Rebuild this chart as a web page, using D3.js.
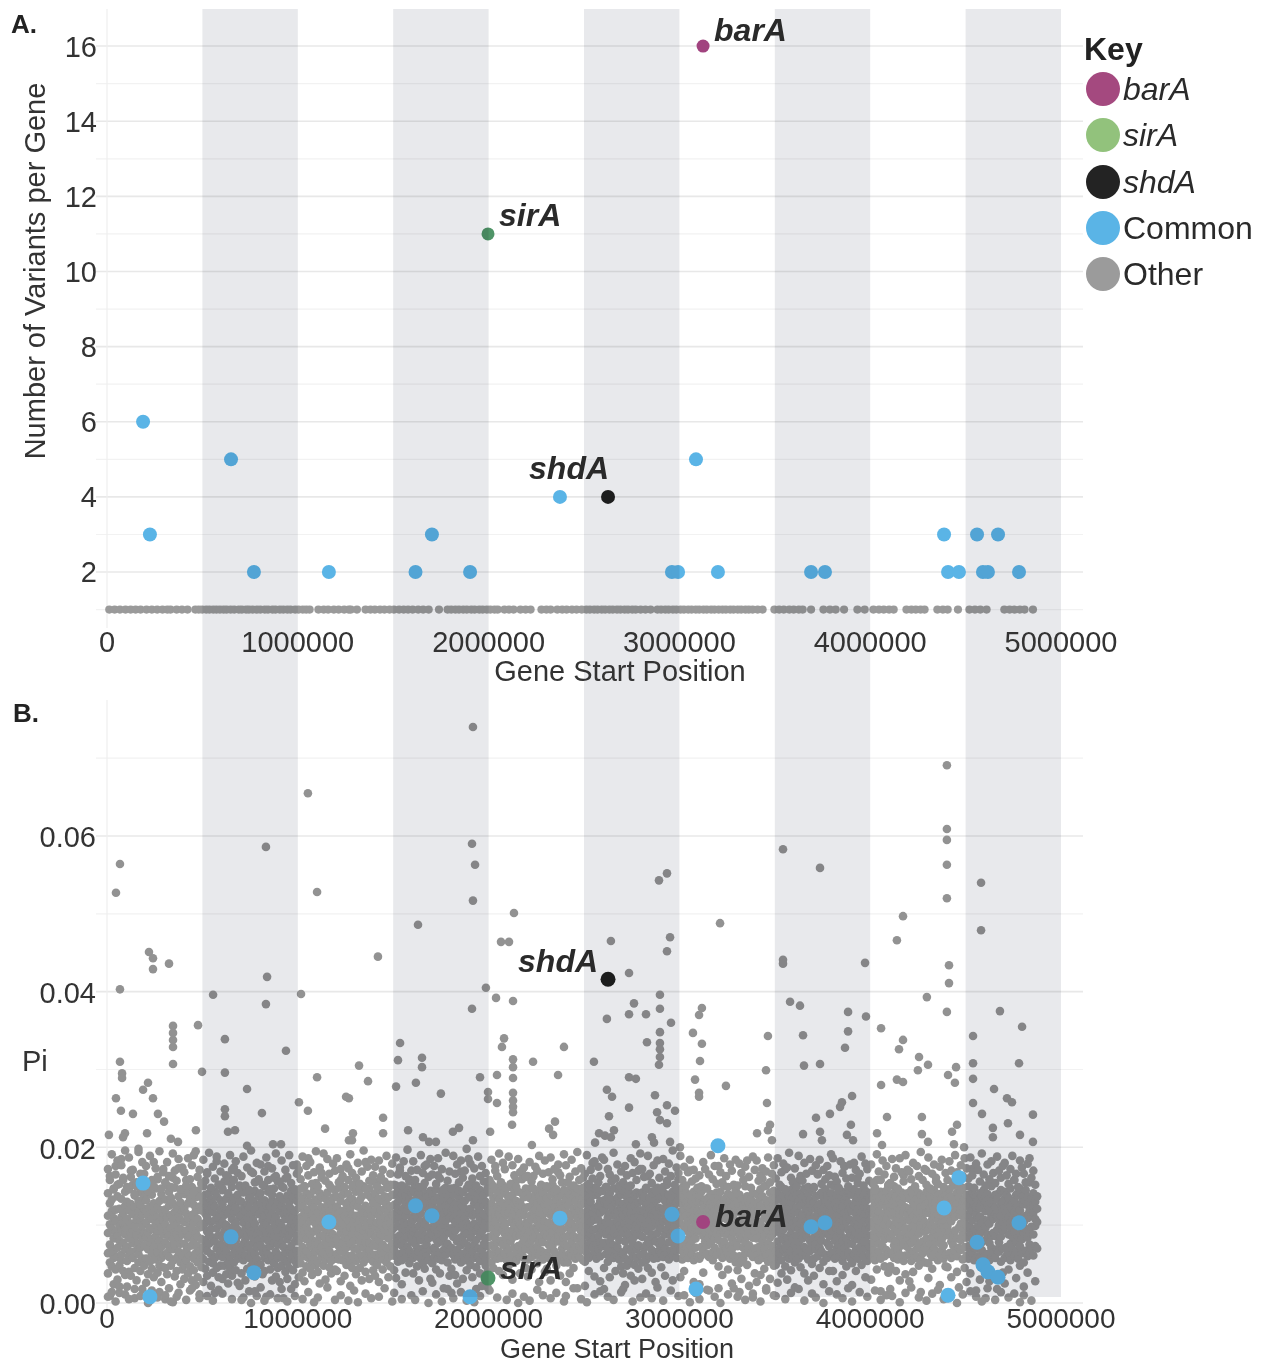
<!DOCTYPE html>
<html>
<head>
<meta charset="utf-8">
<script src="https://cdn.jsdelivr.net/npm/d3@7"></script>
<style>
  body { margin: 0; background: #fff; }
  svg text { font-family: "Liberation Sans", Arial, Helvetica, sans-serif; }
</style>
</head>
<body>
<svg id="chart" width="1271" height="1364"></svg>
<script>
// ---------------- data ----------------
// alternating half-megabase shading along the genome (bp)
const bandStarts = [500000, 1500000, 2500000, 3500000, 4500000];
const bandWidth = 500000;

const xTicks = [0, 1000000, 2000000, 3000000, 4000000, 5000000];
const variantTicks = [2, 4, 6, 8, 10, 12, 14, 16];
const piTicks = [0, 0.02, 0.04, 0.06];

// highlighted genes
const keyGenes = ["barA", "sirA", "shdA"];
const keyGeneStartKb = [3124, 1997, 2626];
const keyGeneVariants = [16, 11, 4];
const keyGenePi = [0.0104, 0.0032, 0.0416];

// genes with variants shared across isolates ("Common")
const commonStartKb = [189, 225, 650, 770, 1163, 1617, 1703, 1903, 2374, 2961, 2993, 3087, 3202,
  3690, 3763, 4387, 4408, 4465, 4560, 4591, 4617, 4670, 4780];
const commonVariants = [6, 3, 5, 2, 2, 2, 3, 2, 4, 2, 2, 5, 2,
  2, 2, 3, 2, 2, 3, 2, 2, 3, 2];
const commonPi = [0.0154, 0.0008, 0.0085, 0.0039, 0.0104, 0.0125, 0.0112, 0.0008, 0.0109, 0.0114, 0.0086, 0.0018, 0.0202,
  0.0098, 0.0103, 0.0122, 0.0010, 0.0161, 0.0078, 0.0049, 0.0040, 0.0033, 0.0103];

// other genes carrying a single variant (start, kb)
const singleVariantStartKb = [
  12, 40, 68, 97, 124, 150, 176, 207, 235, 263, 291, 316, 333, 365, 393, 422,
  463, 481, 499, 520, 537, 557, 574, 592, 611, 627, 648, 667, 691, 707, 729, 744, 763, 786,
  804, 827, 844, 867, 883, 906, 924, 945, 962, 986, 1004, 1026, 1044, 1062,
  1108, 1136, 1159, 1189, 1214, 1243, 1267, 1278, 1310,
  1355, 1381, 1404, 1431, 1454, 1481, 1504, 1531, 1555, 1578, 1602, 1631, 1657, 1686, 1740,
  1785, 1804, 1826, 1845, 1867, 1886, 1909, 1927, 1951, 1969, 1991, 2009, 2031, 2048,
  2083, 2107, 2131, 2167, 2194, 2220, 2277, 2303, 2325,
  2360, 2386, 2409, 2437, 2461, 2488, 2512, 2531, 2553, 2571, 2593, 2611, 2633, 2651, 2673,
  2691, 2713, 2731, 2753, 2771, 2797, 2822, 2849,
  2885, 2904, 2926, 2944, 2966, 2984, 3006, 3024, 3046, 3064, 3086, 3104, 3126, 3144, 3166,
  3184, 3206, 3226, 3244, 3266, 3284, 3306, 3324, 3346, 3364, 3384, 3410, 3436,
  3498, 3523, 3547, 3576, 3599, 3626, 3646, 3690, 3755, 3789, 3819, 3863, 3933, 3971,
  4017, 4046, 4071, 4099, 4123, 4190, 4216, 4239, 4264, 4285, 4352, 4381, 4406, 4460,
  4520, 4549, 4577, 4610, 4703, 4731, 4756, 4784, 4809, 4853];

// nucleotide diversity (Pi) of every gene, in units of 1e-4.
// One string per 100-kb window; "|" separates ten 10-kb slots.
const piWindows = [
  "112 64 38 141 90|75 128 52 9 101 163|96 47 133 70 118|58 24 109 147 83 66|120 91 176 43 105|71 137 30 86 59 152|99 121 48 13 80|134 62 94 110 185 55|41 116 77 158 102|88 69 125 36 143 97",
  "97 54 130 21 108 72|146 83 61 119 40|102 170 66 89 127 35|58 114 93 152 77|45 123 81 6 138 99|68 107 150 29 87|131 76 52 117 194 63|92 41 126 71 105 142|57 113 84 18 99|136 74 48 121 166 90",
  "84 132 57 26 103 118|69 145 91 37 112|150 78 53 124 96 3|63 108 139 82 44|117 71 181 95 33 128|56 101 86 147 74|122 39 93 65 110 159|80 131 48 14 104|72 119 97 140 58 27|88 62 115 172 46 106",
  "101 45 133 78 5 120|64 92 151 37 110|86 125 59 19 143 73|113 48 97 135 2|69 106 82 161 54 128|91 34 117 74 148|58 123 100 41 89 8|137 66 111 83 173|52 95 129 76 24 107|118 61 146 88 43",
  "76 121 49 104 140 31|93 67 115 158 55|128 84 38 109 72 142|61 99 134 47 16 87|113 74 149 96 29|57 126 81 103 190 42|90 136 64 118 23|73 108 52 144 85 33|124 97 66 11 137|82 59 119 153 101 46",
  "98 56 131 72 150 27|115 81 44 103 139|67 126 92 35 110 168|88 53 141 76 119|104 63 22 133 95 147|51 117 84 128 39|79 143 106 58 13 124|96 70 137 45 112 182|61 109 87 152 33|132 75 101 48 120 66",
  "84 127 59 145 31 104|71 113 92 156 48|119 66 100 37 134 87|53 141 78 115 162 25|96 60 122 83 45|108 149 73 35 129 91|64 116 99 174 52 135|80 42 123 68 102|139 57 94 117 26 86|72 110 151 63 131",
  "67 112 38 130 89 4|103 55 142 76 121|82 29 118 95 148 61|126 71 44 109 87|58 135 99 15 123 74|91 47 140 66 113 169|77 107 52 131 84|120 63 96 34 144 102|56 88 125 72 9|114 93 137 49 81 157",
  "91 49 128 74 141 20|106 65 119 37 97|83 132 58 150 112 41|70 101 126 8 89|117 55 143 80 62 176|95 124 43 108 73|132 60 88 29 115 139|77 104 51 147 86|123 66 98 34 110 163|58 92 130 75 45",
  "103 61 137 27 84 118|76 125 48 99 150|89 57 114 6 133 72|121 94 40 108 160 65|82 138 53 116 31|97 68 129 45 110 87|144 73 102 18 121 58|63 111 90 136 42|118 79 54 146 99 24|86 131 67 105 178 50",
  "79 122 56 138 33 97|110 64 89 147 51|125 72 103 39 134 85|60 116 92 150 28|98 141 67 110 47 82|131 58 93 120 186|75 105 44 139 88 62|114 53 127 81 36|92 145 70 108 57 123|66 101 133 79 49 154",
  "94 52 131 77 116 40|68 107 141 85 25|123 59 98 136 72 167|87 113 48 102 64|134 79 56 119 95 30|61 108 142 73 126|99 46 117 83 152 67|128 90 54 111 38|76 135 100 62 121 88|57 114 83 145 43 105",
  "109 63 136 82 41 124|73 98 148 56 115|90 131 67 28 104 158|118 55 96 139 77|64 112 85 143 35 101|127 71 49 117 92|82 140 106 60 130 173|97 53 121 76 22|134 88 61 113 149 45|70 103 126 80 95",
  "86 128 54 112 143 37|101 69 124 90 59|132 78 107 45 146 96|61 118 84 29 137|93 150 72 115 52 106|78 125 98 63 181 40|114 57 139 86 103|68 120 94 147 31 77|105 135 60 111 89|53 97 128 74 156 42",
  "97 141 62 118 35 84|126 73 103 155 49|81 112 58 134 92 27|119 67 145 88 104 162|56 99 131 75 43|137 86 110 64 121 95|71 148 100 52 127|108 59 136 83 33 115|90 124 68 152 47 102|76 113 139 61 94",
  "115 68 139 42 97 126|84 107 151 60 32|130 76 99 121 53 145|63 111 87 135 170|96 140 55 118 74 24|122 81 104 149 66|58 128 93 112 39 137|101 72 146 85 119|67 125 94 51 133 159|110 79 142 62 103 88",
  "92 131 58 107 145 38|76 118 96 152 63|135 84 110 47 126 71|99 141 66 120 29 88|115 57 139 81 105|70 127 94 148 51 133|102 65 123 86 176 44|129 75 108 140 60|83 119 97 55 137 113|68 144 90 124 31",
  "88 126 51 113 139 26|104 71 132 59 95|120 82 107 146 43 67|57 117 91 135 77 164|129 64 101 38 122|79 143 96 55 111 87|115 68 136 84 19|62 125 99 148 71 106|133 76 52 118 93|90 141 65 109 35 127",
  "71 118 44 131 96 13|108 62 139 85 121|93 127 56 104 148 36|122 79 113 68 25|59 135 97 144 83 107|115 52 128 74 169|86 142 63 100 31 124|131 77 109 55 92|66 120 89 147 42 103|99 136 73 116 58 185",
  "84 121 49 136 7 98|112 66 143 91 33|58 128 102 75 151|134 81 115 46 93 18|70 140 97 124 60|117 54 109 145 86 38|92 131 68 103 22|61 126 99 139 76 114|105 48 130 83 57|122 73 96 148 40 110",
  "99 142 63 118 85 31|127 74 108 153 52|88 135 96 61 120 45|112 69 146 83 104 176|57 124 91 137 78|133 66 114 98 41 149|80 121 58 109 140|106 151 75 94 128 36|64 117 89 143 100|125 82 139 72 55 113",
  "116 67 135 92 48 127|79 104 149 61 121|93 138 57 112 84 30|128 71 145 99 118|64 107 131 86 54 157|120 95 143 73 108|87 129 60 115 38 101|141 76 98 124 66 170|58 113 90 136 81|103 147 69 122 45 94",
  "87 123 56 140 101 34|112 68 135 92 76|125 81 107 148 59 43|70 118 96 131 84 163|139 62 110 89 120|95 144 73 105 51 128|61 116 99 137 79 27|132 85 121 67 108|78 141 94 113 56 150|104 126 64 89 133 40",
  "98 135 62 119 44 86|126 75 103 147 58|83 113 139 69 95 29|117 57 129 91 152 74|104 143 66 123 81|62 111 97 134 48 106|137 79 118 88 168|92 56 127 101 141 35|115 70 94 138 63 121|76 145 108 84 52",
  "105 61 132 85 27 118|73 126 97 144 52|129 88 110 64 139 38|60 114 93 150 79 102|121 68 136 86 45|97 131 57 115 142 72|83 109 147 66 124 19|138 74 101 119 59|68 127 92 144 84 113|112 55 135 99 77 161",
  "91 128 53 140 107 22|118 72 99 151 64|84 135 112 58 126 41|130 77 104 145 89|61 116 94 138 71 180|107 148 66 122 83 34|76 113 139 95 57|142 86 107 125 69 155|98 60 131 78 116 28|121 93 144 73 102",
  "77 119 45 132 98 18|104 63 127 88 149|126 70 110 53 137|59 94 141 79 115 33|133 85 102 66 123 157|91 147 58 112 74|115 68 129 96 41|72 135 87 118 60 104|128 56 99 143 81|95 122 65 109 139 47",
  "64 112 38 127 90 145|101 57 121 79 23|117 83 136 48 96 70|55 108 130 88 143|124 67 99 115 35 151|82 132 60 106 76|110 49 125 93 138 29|69 117 87 142 58 100|129 74 112 44 96|87 140 62 119 105 172",
  "85 131 52 109 142 31|118 70 96 137 62|74 124 101 146 55|128 81 113 45 92 163|60 107 135 77 121|98 143 68 114 88 39|112 57 126 83 140|79 104 132 65 118 27|133 90 58 111 148|67 122 97 136 75 103",
  "96 137 63 118 81 46|121 74 105 149 59|88 131 112 70 140 35|107 64 127 94 152|78 118 139 99 56 115|131 87 108 67 124|61 114 92 143 80 29|125 103 72 136 97|84 129 58 111 146 68|116 91 133 76 105 159",
  "102 139 68 117 85 33|127 75 111 148 56|93 134 62 120 99 41|112 81 142 70 128|67 124 96 137 58 105|138 89 115 74 121 170|80 107 131 63 96|119 55 143 88 110 27|71 126 101 135 83|130 92 118 60 109 146",
  "94 131 57 114 138 24|118 72 99 143 61|86 127 105 66 122 39|133 79 111 91 147|63 119 97 132 74 108|121 84 136 59 102 16|77 113 128 93 140|108 65 124 87 55 117|135 96 71 120 83|89 126 103 142 62 112",
  "81 123 47 136 102 19|109 66 128 90 143|124 75 113 58 97 36|60 117 89 132 79 150|135 94 108 70 121|88 128 64 115 140 43|116 73 131 98 57|69 122 104 138 83 25|126 91 117 61 108|99 134 77 119 145 52",
  "73 117 42 129 95 8|106 60 124 86 139 51|119 82 101 54 133 31|57 112 93 126 71|130 78 104 64 116 150|85 121 97 137 49 109|112 67 128 90 22 74|63 118 99 133 106|125 84 59 114 141 12|92 127 70 103 38 120",
  "61 98 140 27 115 83|104 72 131 55 119|88 146 66 102 36 125|117 79 94 58 137 160|70 109 123 44 86|132 97 62 114 151 19|93 76 128 107 53|121 65 99 142 84 31|57 113 87 134 73 100|126 91 48 118 144",
  "108 66 135 49 92 124|79 143 101 58 117 26|133 71 96 112 64|55 120 87 149 103 38|126 94 68 138 81|99 115 47 130 172 72|61 107 141 84 119 30|137 76 98 124 57|89 129 67 111 145 42|116 83 136 59 102",
  "74 118 143 52 97 20|123 86 106 64 139|95 131 57 115 78 157|141 68 102 125 46|83 109 136 91 61 114|128 72 99 147 38|105 61 120 87 133 70|56 117 93 140 104 29|132 80 111 67 126|94 145 75 121 50 101",
  "110 57 129 84 148 35|69 121 95 137 76|124 102 60 114 88 166|83 139 71 106 45 127|97 118 66 142 80|135 89 113 53 122 24|62 108 131 93 146|119 77 100 138 58 111|86 127 73 116 41|141 96 64 120 103 152",
  "92 64 135 118 41 103|127 80 109 150 57|71 122 96 139 85 28|113 59 131 74 101 145|88 137 67 120 93|124 54 106 143 79 36|98 115 70 132 61 176|136 83 112 47 104|65 128 94 141 76 118|107 140 58 123 89",
  "118 76 139 51 96 23|84 125 103 62 146|131 90 115 68 107 41|57 121 82 136 99 161|109 72 128 93 143|64 133 100 117 49 86|138 79 111 59 124|95 144 70 106 130 33|121 87 54 113 140 77|73 116 98 134 62 105",
  "99 58 121 142 30 87|115 69 103 134 78|62 127 91 148 55 112|136 84 107 43 120 158|76 99 131 66 118|104 143 57 89 126 15|128 73 110 95 139|60 115 82 134 101 47|123 92 144 68 108|87 130 63 117 152 39",
  "83 124 47 136 101 18|112 65 140 89 127|97 131 58 116 74 150|125 80 104 41 137|68 119 93 145 56 109|133 86 113 62 120 29|74 128 99 142 85|117 54 106 138 77 164|90 135 61 123 96 37|108 72 141 84 115",
  "106 63 134 88 28 121|77 117 97 145 54|129 85 111 66 139 40|58 102 126 81 147 93|118 70 134 60 107|89 141 75 115 48 128|102 56 123 96 138 14|131 79 108 64 117|71 137 92 125 52 104|116 83 143 69 98 170",
  "94 129 51 116 142 32|121 76 101 137 63|85 126 108 59 133 44|112 70 145 92 119|66 131 98 124 79 156|138 87 106 55 114|77 119 140 93 61 23|125 68 103 134 82|99 143 74 117 57 110|129 90 62 138 105 47",
  "87 122 46 134 99 9|110 64 128 91 146|124 79 105 58 137 33|62 116 88 131 74 151|135 93 111 67 125|83 127 60 118 142 40|114 71 136 97 20|68 121 102 144 81 113|130 89 56 117 148|96 134 72 108 45 126",
  "100 139 61 125 84 27|128 73 112 150 57|90 133 67 118 97 38|119 82 143 64 106 172|71 126 95 138 55|136 86 114 70 123 16|80 109 132 60 99|122 58 141 89 111 30|68 130 103 137 78|133 94 121 59 107 145",
  "81 118 42 130 97 6|106 63 125 88 140|121 77 102 55 134 28|59 113 86 128 71 150|132 90 108 64 119|86 123 58 114 139 35|111 69 133 94 18|66 117 100 141 78 109|127 85 53 112 145|93 129 70 104 39 121",
  "97 134 58 121 143 25|117 72 106 139 61|88 128 110 64 135 43|124 76 97 147 55 103|69 114 130 85 120|132 91 60 116 101 158|78 123 139 67 108 32|113 86 126 57 141|101 147 73 119 90 48|128 64 109 136 82",
  "90 127 52 138 104 21|112 67 131 95 145|126 84 109 60 136 39|63 118 91 129 75 155|134 98 112 70|88 124 61 116 141|108 73 130 99 28|70 121 104 137||"
];

// further genes per window, mostly on the upper and lower fringe of the cloud (same layout, 1e-4 units)
const piFringe = [
  "172 8|158|191 14|146|165 2|183|153 21|177|161|196 11",
  "149|187 5|162|171|140 18|155|198|166 9|181|152",
  "176|144 0|189|158 16|150|173|162 7|195|147|168",
  "155 10|181|163|149|192 1|170|157|185 13|146|174",
  "168|151 4|186|159|177 19|143|195|162|171 6|154",
  "184|157|166 9|193|148|175 3|160|188|152 17|169",
  "147 12|179|164|156|190|171 5|158|182|167|149 22",
  "163|188 7|151|174|145|196 0|167|155 15|180|159",
  "178|152|169 3|187|158|146 11|173|161|192|156 6",
  "156|183 18|148|171|162 2|190|154|177|145 9|166",
  "171|159|188 5|150|176|164 14|181|153|168 1|195",
  "150 7|174|161|192|157|185 20|166|148|179|170 4",
  "186|155|172 10|163|149|178|158 3|191|167|152 16",
  "161|180 1|153|169|196|147 12|175|157|184 6|164",
  "175|150|183 8|160|171|156 19|189|148|166|179 2",
  "152 13|187|165|174|151 5|182|163|197|156|170 10",
  "182|158 4|171|149|190|167 15|154|178|162 0|185",
  "165|176|153 11|186|160|172 2|146|193|157 18|169",
  "147|189 6|166|178|155|183 14|161|170|198 3|152",
  "179|160|173 1|151|188|163 9|176|156|167|145 20",
  "158 16|184|150|170|163 7|192|155|180|172|148 4",
  "188|153|177 12|164|149|185 0|168|159|174 8|162",
  "163|181 3|156|147|175|170 17|189|152|166 10|183",
  "150|168|187 6|159|172|146 13|178|164|155|191 2",
  "177 9|155|162|184|151 19|169|194|158|173 5|148",
  "166|190 1|153|171|160|182 11|147|175|163 15|187",
  "184|149|172 8|165|156|193 4|160|178|151|169 14",
  "155 18|176|164|150|186|167 2|181|158|170|192 7",
  "172|162|148 12|189|166|154 6|177|145|183 20|161",
  "146|185 3|169|157|179|163 16|196|152|174|167 9",
  "189|158|175 10|151|168|184 1|156|171|160 13|148",
  "164 5|150|181|172|147 17|165|190|159|176 8|153",
  "176|168 0|155|186|163|149 11|178|170|152 19|184",
  "151|179 14|167|158|175 4|183|162|148|188 7|171",
  "183|157|164 2|173|150|169 16|187|155|166|177 10",
  "160 9|186|152|168|179|146 5|174|193|161 13|155",
  "173|150|189 18|163|157|180 3|166|149|185|170 12",
  "149|177 7|165|184|153|171 0|159|176|164 15|191",
  "186|162|156 11|148|182|167 6|175|160|150 19|178",
  "161 2|180|171|154|166 14|188|151|179|172 8|157",
  "178|153|145 16|191|169|158 4|183|165|176 10|150",
  "154|185 9|162|173|147|186 1|168|156|190 13|171",
  "169|159 20|180|150|176|163 7|194|158|172|152 3",
  "187|147|166 12|178|161|153 17|175|184|149 5|167",
  "158 6|182|170|155|190|168 0|151|177|163 11|186",
  "173|160|187 15|164|148|179 8|171|156|192 2|165",
  "151|178 19|159|182|167|154 4|188|170|161 14|176",
  "180|164|153 7|172|189|158 12|166|149|183 1|174",
  "166 10|155|179|186|161 3|170|152|||"
];

// genes with Pi above 0.02: [start kb, Pi x 1e4]
const piHigh = [
  [68,564],[47,527],[68,403],[220,451],[241,443],[241,429],[325,436],[346,356],[477,357],[556,396],
  [833,586],[839,419],[833,384],[1017,397],[1053,655],[1101,528],[1420,445],[1630,486],[1918,740],
  [1913,590],[1929,563],[1918,517],[1913,378],[1986,405],[2039,392],[2128,388],[2065,464],[2107,464],
  [2133,501],[2641,465],[2736,424],[2762,385],[2736,371],[2620,365],
  [4402,691],[4402,609],[4402,595],[4402,563],[4402,520],[4413,434],[4413,411],[4402,374],[4297,393],
  [4172,497],[4140,466],[3543,583],[3737,559],[3543,441],[3543,436],[3580,387],[3632,382],[3884,374],
  [3973,437],[3978,368],[4057,353],[4581,540],[4581,479],[4680,375],[4796,355],[2893,543],[2935,552],
  [3213,488],[2951,470],[2935,452],[2898,396],[2825,371],[2898,378],[2956,360],[3118,379],[3103,370],
  [346,347],[346,338],[346,329],[346,307],[618,339],[938,324],[68,310],[79,295],[79,289],[498,297],
  [618,296],[1101,290],[215,283],[189,274],[47,263],[241,263],[734,275],[73,247],[136,243],[267,243],
  [299,233],[618,249],[618,240],[812,244],[1006,258],[1053,247],[10,216],[94,218],[84,213],[210,218],
  [335,211],[372,207],[466,222],[634,220],[671,222],[1143,224],[734,202],[870,204],[912,204],[1253,265],
  [1268,209],
  [1536,334],[2081,340],[2070,329],[1321,305],[1525,312],[1651,315],[1651,303],[2128,313],[2128,303],
  [2128,289],[2233,310],[2395,329],[2364,293],[1368,285],[1515,278],[1619,283],[1955,290],[2044,293],
  [1750,269],[1268,263],[1997,271],[1997,262],[2044,257],[2128,270],[2128,260],[2128,252],[2128,245],
  [2123,229],[1447,238],[1447,218],[1289,218],[1284,209],[1578,222],[1656,213],[1688,207],[1724,207],
  [1813,220],[1845,225],[1918,209],[2008,220],[2227,203],[2317,224],[2348,233],[2338,216],
  [2898,348],[2898,334],[2898,326],[2898,316],[2893,306],[2830,335],[3071,347],[3118,333],[3108,311],
  [2552,310],[2736,290],[2772,288],[3082,287],[3103,270],[3103,265],[3244,279],[3454,299],[3464,343],
  [3648,344],[3653,305],[3737,307],[2620,274],[2647,265],[2872,267],[2935,254],[2977,247],[2736,251],
  [3459,257],[2631,240],[2883,245],[2898,235],[2935,231],[3475,229],[3464,222],[3716,238],[3737,220],
  [3648,217],[2579,218],[2610,215],[2657,222],[2641,213],[2558,206],[2772,204],[2856,213],[2867,206],
  [2951,207],[3003,200],[3407,218],[3485,209],[3747,209],
  [3884,349],[4539,343],[4172,338],[4151,326],[4256,316],[4303,306],[4250,299],[4450,303],[4408,293],
  [4444,283],[4057,280],[4140,287],[4172,284],[4539,288],[4780,308],[3905,266],[3852,258],[3842,252],
  [3789,243],[4539,257],[4649,275],[4717,263],[4743,258],[4586,243],[4722,231],[4853,242],[4088,239],
  [4271,239],[4455,229],[4429,220],[3899,229],[3878,216],[3910,209],[4036,218],[4062,203],[4271,217],
  [4303,207],[4643,225],[4643,213],[4785,216],[4853,207],[4439,204],[4492,200],[3868,328],[4539,308]
];

// legend entries
const legendLabels = ["barA", "sirA", "shdA", "Common", "Other"];
const legendItalic = [true, true, true, false, false];

// ---------------- colours ----------------
const keyGeneColor = { barA: "#a1437f", sirA: "#4f9467", shdA: "#202020" };
const legendColors = ["#a4497f", "#92c27c", "#232323", "#5ab4e6", "#9b9b9b"];
const commonColor = "#5ab4e6";
const otherColor = "#929292";

// ---------------- layout ----------------
const svg = d3.select("#chart");
svg.append("rect").attr("width", 1271).attr("height", 1364).attr("fill", "#fff");

const x = d3.scaleLinear().domain([-57650, 5099600]).range([96, 1080]);
const yA = d3.scaleLinear().domain([0.5, 17]).range([628.4, 8.5]);
const yB = d3.scaleLinear().domain([-0.0013, 0.0775]).range([1313.1, 699.8]);
const kb = v => x(v * 1000);

const gridLeft = 96, gridRight = 1083;

// grid, panel A
const gA = svg.append("g");
d3.range(1, 17).forEach(v => {
  gA.append("line").attr("x1", gridLeft).attr("x2", gridRight)
    .attr("y1", yA(v)).attr("y2", yA(v))
    .attr("stroke", v % 2 === 0 ? "#e8e8e8" : "#f2f2f2").attr("stroke-width", v % 2 === 0 ? 1.6 : 1.2);
});
gA.append("line").attr("x1", x(0)).attr("x2", x(0)).attr("y1", 9).attr("y2", 628)
  .attr("stroke", "#efefef").attr("stroke-width", 1.2);

// grid, panel B
const gB = svg.append("g");
d3.range(0, 8).forEach(i => {
  const v = i / 100;
  gB.append("line").attr("x1", gridLeft).attr("x2", gridRight)
    .attr("y1", yB(v)).attr("y2", yB(v))
    .attr("stroke", i % 2 === 0 ? "#e8e8e8" : "#f2f2f2").attr("stroke-width", i % 2 === 0 ? 1.6 : 1.2);
});
gB.append("line").attr("x1", x(0)).attr("x2", x(0)).attr("y1", 700).attr("y2", 1312)
  .attr("stroke", "#efefef").attr("stroke-width", 1.2);

// ---------------- panel A points ----------------
const ptsA = svg.append("g");
ptsA.selectAll("circle.single").data(singleVariantStartKb).join("circle")
  .attr("cx", d => kb(d)).attr("cy", yA(1)).attr("r", 4.1).attr("fill", "#9a9a9a");
ptsA.selectAll("circle.common").data(commonStartKb.map((s, i) => [s, commonVariants[i]])).join("circle")
  .attr("cx", d => kb(d[0])).attr("cy", d => yA(d[1])).attr("r", 7).attr("fill", commonColor);
keyGenes.forEach((g, i) => {
  ptsA.append("circle").attr("cx", kb(keyGeneStartKb[i])).attr("cy", yA(keyGeneVariants[i]))
    .attr("r", g === "shdA" ? 7 : 6.5).attr("fill", keyGeneColor[g]);
});

// ---------------- panel B points ----------------
const piOther = [];
[piWindows, piFringe].forEach(rows => {
  rows.forEach((row, w) => {
    row.split("|").forEach((slot, s) => {
      slot.trim().split(/\s+/).filter(t => t.length).forEach(t => piOther.push([w * 100 + s * 10 + 5, +t]));
    });
  });
});
piHigh.forEach(d => piOther.push(d));

const ptsB = svg.append("g");
ptsB.selectAll("circle").data(piOther).join("circle")
  .attr("cx", d => kb(d[0])).attr("cy", d => yB(d[1] / 10000)).attr("r", 4.3).attr("fill", otherColor);
const ptsB2 = svg.append("g");
ptsB2.selectAll("circle").data(commonStartKb.map((s, i) => [s, commonPi[i]])).join("circle")
  .attr("cx", d => kb(d[0])).attr("cy", d => yB(d[1])).attr("r", 7.5).attr("fill", commonColor);
keyGenes.forEach((g, i) => {
  ptsB2.append("circle").attr("cx", kb(keyGeneStartKb[i])).attr("cy", yB(keyGenePi[i]))
    .attr("r", g === "barA" ? 7 : 7.5).attr("fill", keyGeneColor[g]);
});

// ---------------- shading bands (multiplied over the marks) ----------------
svg.append("g").selectAll("rect").data(bandStarts).join("rect")
  .attr("x", d => x(d)).attr("width", d => x(d + bandWidth) - x(d))
  .attr("y", 9).attr("height", 1297 - 9)
  .attr("fill", "#e8e9ec").style("mix-blend-mode", "multiply");

// ---------------- axes text ----------------
const txt = svg.append("g").attr("fill", "#333");
const tickSize = 29;

variantTicks.forEach(v => {
  txt.append("text").attr("x", 97).attr("y", yA(v)).attr("dy", "0.36em")
    .attr("text-anchor", "end").attr("font-size", tickSize).text(v);
});
piTicks.forEach(v => {
  txt.append("text").attr("x", 96).attr("y", yB(v) + 1).attr("dy", "0.36em")
    .attr("text-anchor", "end").attr("font-size", tickSize).text(d3.format(".2f")(v));
});
xTicks.forEach(v => {
  txt.append("text").attr("x", x(v)).attr("y", 652).attr("text-anchor", "middle")
    .attr("font-size", tickSize).text(v);
  txt.append("text").attr("x", x(v)).attr("y", 1327.5).attr("text-anchor", "middle")
    .attr("font-size", 28).text(v);
});

txt.append("text").attr("x", 620).attr("y", 681).attr("text-anchor", "middle")
  .attr("font-size", tickSize).text("Gene Start Position");
txt.append("text").attr("x", 617).attr("y", 1358.3).attr("text-anchor", "middle")
  .attr("font-size", 27).text("Gene Start Position");
txt.append("text").attr("transform", "translate(45,271) rotate(-90)").attr("text-anchor", "middle")
  .attr("font-size", tickSize).text("Number of Variants per Gene");
txt.append("text").attr("x", 22).attr("y", 1071).attr("font-size", tickSize).text("Pi");

svg.append("text").attr("x", 11).attr("y", 33).attr("font-size", 26).attr("font-weight", "bold")
  .attr("fill", "#222").text("A.");
svg.append("text").attr("x", 13).attr("y", 722).attr("font-size", 26).attr("font-weight", "bold")
  .attr("fill", "#222").text("B.");

// ---------------- gene labels ----------------
const lab = svg.append("g").attr("font-size", 32).attr("font-weight", "bold")
  .attr("font-style", "italic").attr("fill", "#2a2a2a");
const iBar = keyGenes.indexOf("barA"), iSir = keyGenes.indexOf("sirA"), iShd = keyGenes.indexOf("shdA");
lab.append("text").attr("x", kb(keyGeneStartKb[iBar]) + 11).attr("y", yA(keyGeneVariants[iBar]) - 5).text("barA");
lab.append("text").attr("x", kb(keyGeneStartKb[iSir]) + 11).attr("y", yA(keyGeneVariants[iSir]) - 8).text("sirA");
lab.append("text").attr("x", kb(keyGeneStartKb[iShd]) + 1).attr("y", yA(keyGeneVariants[iShd]) - 18)
  .attr("text-anchor", "end").text("shdA");
lab.append("text").attr("x", kb(keyGeneStartKb[iShd]) - 10).attr("y", yB(keyGenePi[iShd]) - 7)
  .attr("text-anchor", "end").text("shdA");
lab.append("text").attr("x", kb(keyGeneStartKb[iBar]) + 12).attr("y", yB(keyGenePi[iBar]) + 5).text("barA");
lab.append("text").attr("x", kb(keyGeneStartKb[iSir]) + 12).attr("y", yB(keyGenePi[iSir]) + 1).text("sirA");

// ---------------- legend ----------------
const leg = svg.append("g");
leg.append("text").attr("x", 1084).attr("y", 60).attr("font-size", 32).attr("font-weight", "bold")
  .attr("fill", "#222").text("Key");
const legY = [89, 135, 182, 228, 274];
legendLabels.forEach((l, i) => {
  leg.append("circle").attr("cx", 1103).attr("cy", legY[i]).attr("r", 17).attr("fill", legendColors[i]);
  leg.append("text").attr("x", 1123).attr("y", legY[i] + 11).attr("font-size", 32)
    .attr("font-style", legendItalic[i] ? "italic" : "normal").attr("fill", "#2a2a2a").text(l);
});
</script>
</body>
</html>
